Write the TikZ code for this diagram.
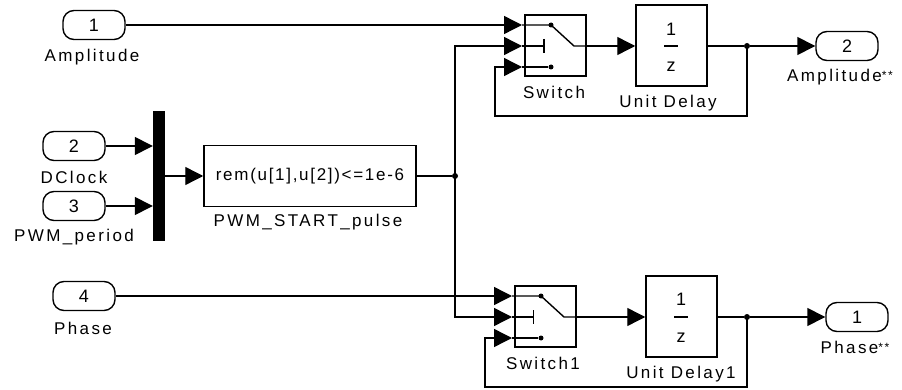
\documentclass[tikz,border=0pt]{standalone}
\usepackage{fontspec}
\setmainfont{Liberation Sans}
\newfontfamily\lblfont[LetterSpace=14]{Liberation Sans}
\newfontfamily\fcnfont[LetterSpace=10]{Liberation Sans}
\newcommand{\tinystars}{{\fontsize{12}{12}\selectfont\raisebox{2pt}{**}}}
\usetikzlibrary{arrows.meta,calc}
\tikzset{
  x=1pt,y=-1pt,
  sig/.style={line width=1.4pt,-{Triangle[length=18pt,width=18pt]}},
  wire/.style={line width=1.4pt},
  port/.style={draw,line width=1.4pt,rounded corners=11pt,minimum width=62pt,minimum height=29pt,inner sep=0pt,font=\fontsize{18}{18}\selectfont},
  blockbox/.style={draw,line width=1.5pt,inner sep=0pt,font=\fcnfont\fontsize{17}{17}\selectfont},
  lbl/.style={inner sep=0pt,font=\lblfont\fontsize{17}{17}\selectfont},
  digit/.style={inner sep=0pt,font=\fontsize{18}{18}\selectfont},
  junction/.style={circle,fill=black,inner sep=0pt,minimum size=6pt},
  contact/.style={circle,fill=black,inner sep=0pt,minimum size=5pt},
}
\begin{document}
\begin{tikzpicture}
\useasboundingbox (0,0) rectangle (902,390);
% ports
\node[port] (in1) at (94,25) {1};
\node[port] (in2) at (74,146) {2};
\node[port] (in3) at (74,206) {3};
\node[port] (in4) at (84,296) {4};
\node[port] (out2) at (847,46) {2};
\node[port] (out1) at (857,317) {1};
\node[lbl] (l1) at (92,57) {Amplitude};
\node[lbl] (l2) at (74,177) {DClock};
\node[lbl] (l3) at (74,237) {PWM\_period};
\node[lbl] (l4) at (83,328) {Phase};
\node[lbl] (l5) at (840,77) {Amplitude\tinystars};
\node[lbl] (l6) at (855,347) {Phase\tinystars};
% mux
\node[fill=black,inner sep=0pt,minimum width=12pt,minimum height=130pt] (mux) at (159,176) {};
% fcn
\node[blockbox,minimum width=212pt,minimum height=61pt] (fcn) at (310,176) {rem(u[1],u[2])<=1e-6};
\node[lbl] (l7) at (308,222) {PWM\_START\_pulse};
% switches
\node[blockbox,minimum width=61pt,minimum height=61pt] (sw) at (555.5,45.5) {};
\node[blockbox,minimum width=61pt,minimum height=61pt] (sw1) at (545.5,316.5) {};
\node[lbl] (l8) at (554,92) {Switch};
\node[lbl] (l9) at (543,363) {Switch1};
% delays
\node[blockbox,minimum width=71pt,minimum height=81pt] (ud) at (671.5,45.5) {};
\node[blockbox,minimum width=71pt,minimum height=81pt] (ud1) at (681.5,316.5) {};
\node[lbl] (l10) at (668,103) {Unit Delay};
\node[lbl] (l11) at (681,374) {Unit Delay1};
\node[digit] (n1) at (671,29) {1};
\node[digit] (z1) at (671,67) {z};
\node[digit] (n2) at (681,299) {1};
\node[digit] (z2) at (681,338) {z};
\draw[wire] (664,46) -- (678,46);
\draw[wire] (674,317) -- (688,317);
% junctions
\node[junction] (jc) at (455,176) {};
\node[junction] (j1) at (747,46) {};
\node[junction] (j2) at (747,317) {};
% switch ports
\coordinate (swa) at (522,25);
\coordinate (swb) at (522,46);
\coordinate (swc) at (522,67);
\coordinate (swsa) at (512,296);
\coordinate (swsb) at (512,317);
\coordinate (swsc) at (512,338);
\coordinate (fb1) at (495,116);
\coordinate (fb2) at (485,387);
\node[contact] (ca) at (551,25) {};
\node[contact] (cc) at (551,67) {};
\node[contact] (csa) at (541,296) {};
\node[contact] (csc) at (541,338) {};
\coordinate (bar) at (544,46);
\coordinate (bar1) at (533.5,317);
\coordinate (piv) at (574,46);
\coordinate (piv1) at (564,317);
% switch interiors
\draw[wire] (swa) -- (ca.center) -- (piv) -- (sw.east |- piv);
\draw[wire] (swb) -- (bar);
\draw[wire] ($(bar)+(0,-7)$) -- ($(bar)+(0,7)$);
\draw[wire] (swc) -- (cc);
\draw[wire] (swsa) -- (csa.center) -- (piv1) -- (sw1.east |- piv1);
\draw[wire] (swsb) -- (bar1);
\draw[wire] ($(bar1)+(0,-7)$) -- ($(bar1)+(0,7)$);
\draw[wire] (swsc) -- (csc);
% connectors
\draw[sig] (in1.east) -- (swa);
\draw[sig] (in2.east) -- (mux.west |- in2.east);
\draw[sig] (in3.east) -- (mux.west |- in3.east);
\draw[sig] (mux.east |- fcn.west) -- (fcn.west);
\draw[wire] (fcn.east) -- (jc);
\draw[sig] (jc.center) -- (jc.center |- swb) -- (swb);
\draw[sig] (jc.center) -- (jc.center |- swsb) -- (swsb);
\draw[sig] (in4.east) -- (swsa);
\draw[sig] (sw.east |- piv) -- (ud.west |- piv);
\draw[sig] (sw1.east |- piv1) -- (ud1.west |- piv1);
\draw[wire] (ud.east |- j1) -- (j1);
\draw[wire] (ud1.east |- j2) -- (j2);
\draw[sig] (j1) -- (out2.west);
\draw[sig] (j2) -- (out1.west);
\draw[sig] (j1.center) -- (fb1 -| j1.center) -- (fb1) -- (fb1 |- swc) -- (swc);
\draw[sig] (j2.center) -- (fb2 -| j2.center) -- (fb2) -- (fb2 |- swsc) -- (swsc);
\end{tikzpicture}
\end{document}
